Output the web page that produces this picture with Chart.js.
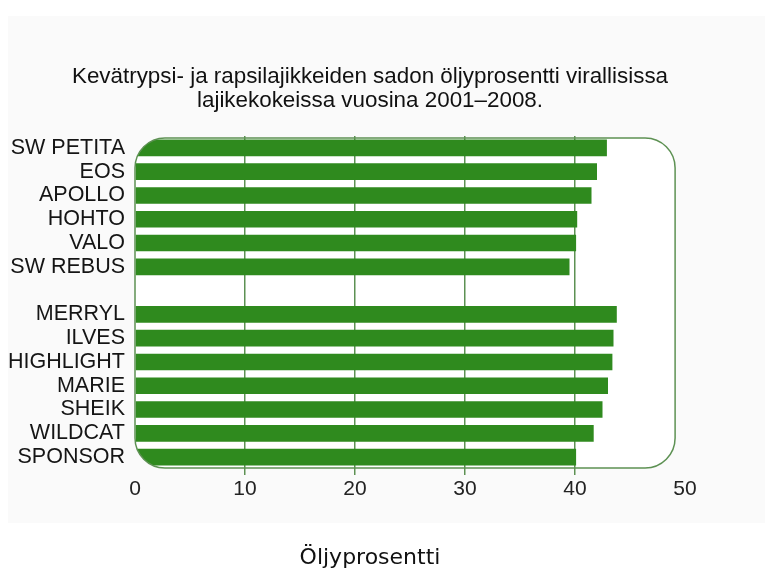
<!DOCTYPE html>
<html>
<head>
<meta charset="utf-8">
<script src="https://cdn.jsdelivr.net/npm/chart.js@4"></script>
<style>
  html, body { margin: 0; padding: 0; background: #fff; }
  #wrap { width: 765px; height: 572px; position: relative; }
</style>
</head>
<body>
<div id="wrap"><canvas id="oilChart"></canvas></div>
<script>
// varieties, spring turnip rape on top, spring rape below (blank row between)
const varieties = ['SW PETITA', 'EOS', 'APOLLO', 'HOHTO', 'VALO', 'SW REBUS', '',
  'MERRYL', 'ILVES', 'HIGHLIGHT', 'MARIE', 'SHEIK', 'WILDCAT', 'SPONSOR'];
const oilPercent = [42.9, 42.0, 41.5, 40.2, 40.1, 39.5, null,
  43.8, 43.5, 43.4, 43.0, 42.5, 41.7, 40.1];
const xTicks = [0, 10, 20, 30, 40, 50];
const titleLines = ['Kevätrypsi- ja rapsilajikkeiden sadon öljyprosentti virallisissa',
  'lajikekokeissa vuosina 2001–2008.'];
const axisTitle = 'Öljyprosentti';

const barGreen = '#2f8a1e';
const lineGreen = '#5d9153';

function framePath(ctx, area, right) {
  const r = 30, l = area.left, t = area.top + 2, b = area.bottom - 1;
  ctx.beginPath();
  ctx.moveTo(l + r, t);
  ctx.lineTo(right - r, t);
  ctx.arcTo(right, t, right, t + r, r);
  ctx.lineTo(right, b - r);
  ctx.arcTo(right, b, right - r, b, r);
  ctx.lineTo(l + r, b);
  ctx.arcTo(l, b, l, b - r, r);
  ctx.lineTo(l, t + r);
  ctx.arcTo(l, t, l + r, t, r);
  ctx.closePath();
}

const roundFrame = {
  id: 'roundFrame',
  beforeDraw(chart) {
    const ctx = chart.ctx;
    ctx.save();
    ctx.fillStyle = '#fafafa';
    ctx.fillRect(8, 16, 757, 507);
    framePath(ctx, chart.chartArea, chart.scales.x.getPixelForValue(49.1));
    ctx.fillStyle = '#ffffff';
    ctx.fill();
    ctx.restore();
  },
  beforeDatasetsDraw(chart) {
    const ctx = chart.ctx;
    ctx.save();
    framePath(ctx, chart.chartArea, chart.scales.x.getPixelForValue(49.1));
    ctx.clip();
  },
  afterDatasetsDraw(chart) {
    const ctx = chart.ctx;
    ctx.restore();
    ctx.save();
    framePath(ctx, chart.chartArea, chart.scales.x.getPixelForValue(49.1));
    ctx.strokeStyle = lineGreen;
    ctx.lineWidth = 1.5;
    ctx.stroke();
    ctx.restore();
  }
};

const oil_chart = document.getElementById('oilChart');
new Chart(oil_chart, {
  type: 'bar',
  data: {
    labels: varieties,
    datasets: [{
      label: axisTitle,
      data: oilPercent,
      backgroundColor: barGreen,
      borderWidth: 0,
      barPercentage: 0.7,
      categoryPercentage: 1.0
    }]
  },
  options: {
    indexAxis: 'y',
    responsive: true,
    maintainAspectRatio: false,
    animation: false,
    layout: { padding: { left: 0, right: 25, top: 0, bottom: 0 } },
    plugins: {
      legend: { display: false },
      tooltip: { enabled: false },
      title: {
        display: true,
        text: titleLines,
        color: '#111',
        font: { family: 'Liberation Sans', size: 22.4, weight: 'normal', lineHeight: '24px' },
        padding: { top: 65, bottom: 23 }
      },
      subtitle: {
        display: true,
        position: 'bottom',
        text: axisTitle,
        color: '#111',
        font: { family: 'DejaVu Sans', size: 22, weight: 'normal', lineHeight: '26px' },
        padding: { top: 30, bottom: 1 }
      }
    },
    scales: {
      x: {
        min: 0,
        max: 50,
        afterBuildTicks: s => { s.ticks = xTicks.map(v => ({ value: v })); },
        afterFit: s => { s.height = 46; },
        border: { display: false },
        grid: {
          color: c => (c.tick && c.tick.value > 0 && c.tick.value < 50) ? lineGreen : 'rgba(0,0,0,0)',
          lineWidth: 1.5,
          tickLength: 6,
          tickColor: c => (c.tick && c.tick.value > 0 && c.tick.value < 50) ? lineGreen : 'rgba(0,0,0,0)'
        },
        ticks: {
          color: '#222',
          padding: 2,
          font: { family: 'Liberation Sans', size: 21 }
        }
      },
      y: {
        afterFit: s => { s.width = 135; },
        border: { display: false },
        grid: { display: false, drawTicks: false },
        ticks: {
          autoSkip: false,
          color: '#151515',
          padding: 10,
          font: { family: 'Liberation Sans', size: 21.5 }
        }
      },
      // empty spacer on the right so the plot ends at 50 where the reference does
      yRight: {
        type: 'linear',
        axis: 'y',
        position: 'right',
        afterFit: s => { s.width = 55; },
        border: { display: false },
        grid: { display: false, drawTicks: false },
        ticks: { display: false }
      }
    }
  },
  plugins: [roundFrame]
});
</script>
</body>
</html>
